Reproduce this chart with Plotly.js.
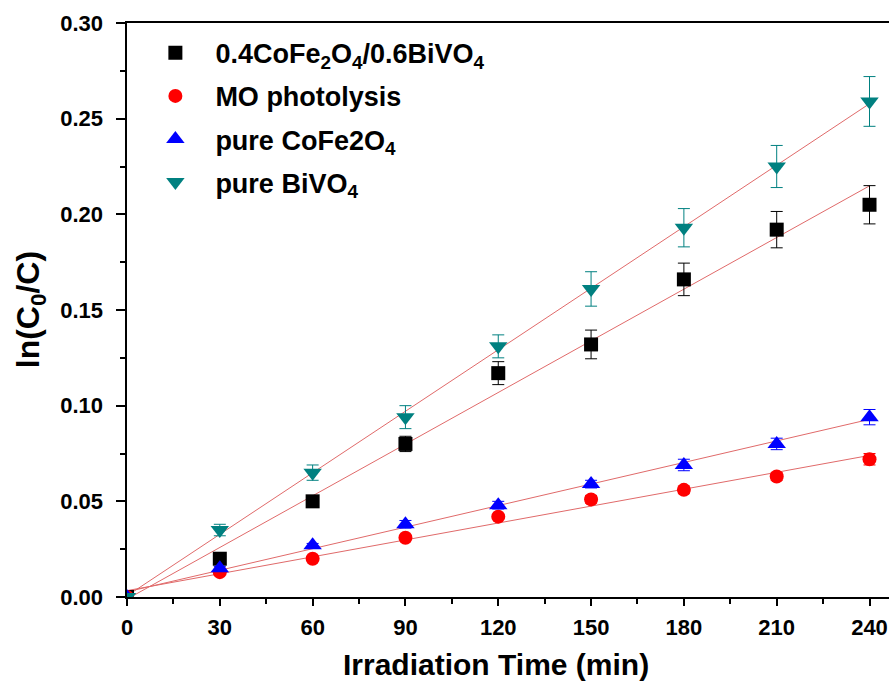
<!DOCTYPE html>
<html>
<head>
<meta charset="utf-8">
<script src="https://cdn.plot.ly/plotly-3.0.1.min.js"></script>
<style>html,body{margin:0;padding:0;background:#fff;}#chart{width:889px;height:684px;}</style>
</head>
<body>
<div id="chart"></div>
<script>
// Irradiation time (min)
const time = [0, 30, 60, 90, 120, 150, 180, 210, 240];

// ln(C0/C) values
const composite = [0, 0.020, 0.050, 0.080, 0.117, 0.132, 0.166, 0.192, 0.205];
const compositeErr = [0, 0.001, 0.002, 0.004, 0.006, 0.0075, 0.0085, 0.0095, 0.010];

const photolysis = [0, 0.013, 0.020, 0.031, 0.042, 0.051, 0.056, 0.063, 0.072];
const photolysisErr = [0, 0.001, 0.001, 0.001, 0.001, 0.002, 0.002, 0.002, 0.003];

const cofe = [0, 0.015, 0.027, 0.038, 0.048, 0.059, 0.069, 0.080, 0.094];
const cofeErr = [0, 0.001, 0.001, 0.002, 0.002, 0.002, 0.003, 0.003, 0.004];

const bivo = [0, 0.035, 0.065, 0.094, 0.131, 0.161, 0.193, 0.225, 0.259];
const bivoErr = [0, 0.003, 0.004, 0.006, 0.006, 0.009, 0.010, 0.011, 0.013];

const names = [
  '0.4CoFe<sub>2</sub>O<sub>4</sub>/0.6BiVO<sub>4</sub>',
  'MO photolysis',
  'pure CoFe2O<sub>4</sub>',
  'pure BiVO<sub>4</sub>'
];

const xTitle = 'Irradiation Time (min)';
const yTitle = 'ln(C<sub>0</sub>/C)';

const FONT = 'Liberation Sans, Arial, sans-serif';

function linfit(x, y) {
  const n = x.length;
  const mx = x.reduce((a, b) => a + b, 0) / n;
  const my = y.reduce((a, b) => a + b, 0) / n;
  let sxy = 0, sxx = 0;
  for (let i = 0; i < n; i++) { sxy += (x[i] - mx) * (y[i] - my); sxx += (x[i] - mx) ** 2; }
  const b = sxy / sxx, a = my - b * mx;
  const xs = [x[0], x[n - 1]];
  return { x: xs, y: xs.map(v => a + b * v) };
}

const series = [
  { y: composite, e: compositeErr, color: '#000000', symbol: 'square', size: 14 },
  { y: photolysis, e: photolysisErr, color: '#ff0000', symbol: 'circle', size: 14 },
  { y: cofe, e: cofeErr, color: '#0000ff', symbol: 'triangle-up', size: 16 },
  { y: bivo, e: bivoErr, color: '#008080', symbol: 'triangle-down', size: 16 }
];

const traces = [];
series.forEach(s => {
  const f = linfit(time, s.y);
  traces.push({
    x: f.x, y: f.y, mode: 'lines', type: 'scatter', showlegend: false, hoverinfo: 'skip',
    line: { color: '#e06a6a', width: 1 }
  });
});
series.forEach((s, i) => {
  traces.push({
    x: time, y: s.y, name: names[i], type: 'scatter', mode: 'markers',
    legendgroup: 'g' + i,
    marker: { symbol: s.symbol, size: s.size, color: s.color },
    error_y: { type: 'data', array: s.e, visible: true, color: s.color, thickness: 1, width: 6 }
  });
});

const layout = {
  width: 889, height: 684,
  margin: { l: 127, r: 0, t: 23, b: 87 },
  paper_bgcolor: '#ffffff', plot_bgcolor: '#ffffff',
  font: { family: FONT, color: '#000' },
  showlegend: true,
  legend: {
    x: 0.011, y: 0.99, xanchor: 'left', yanchor: 'top',
    bgcolor: 'rgba(0,0,0,0)', borderwidth: 0,
    font: { family: FONT, size: 27, weight: 'bold', color: '#000' },
    itemwidth: 70, tracegroupgap: 5
  },
  xaxis: {
    range: [0, 246.3], tickvals: [0, 30, 60, 90, 120, 150, 180, 210, 240],
    ticks: 'outside', ticklen: 7, tickwidth: 2, tickcolor: '#000', ticklabelstandoff: 3,
    minor: { dtick: 15, tick0: 0, ticks: 'outside', ticklen: 5, tickwidth: 2, tickcolor: '#000' },
    showline: true, linewidth: 2, linecolor: '#000', mirror: true,
    showgrid: false, zeroline: false,
    tickfont: { family: FONT, size: 22, weight: 'bold' }
  },
  yaxis: {
    range: [0, 0.30], tickvals: [0, 0.05, 0.10, 0.15, 0.20, 0.25, 0.30], tickformat: '.2f',
    ticks: 'outside', ticklen: 9, tickwidth: 2, tickcolor: '#000', ticklabelstandoff: 8,
    minor: { dtick: 0.025, tick0: 0, ticks: 'outside', ticklen: 5, tickwidth: 2, tickcolor: '#000' },
    showline: true, linewidth: 2.5, linecolor: '#000', mirror: false,
    showgrid: false, zeroline: false,
    tickfont: { family: FONT, size: 22, weight: 'bold' }
  },
  annotations: [
    { text: xTitle, xref: 'paper', yref: 'paper', x: 0.484, y: -0.118, xanchor: 'center', yanchor: 'middle',
      showarrow: false, font: { family: FONT, size: 30, weight: 'bold', color: '#000' } },
    { text: yTitle, xref: 'paper', yref: 'paper', x: -0.127, y: 0.50, xanchor: 'center', yanchor: 'middle',
      textangle: -90, showarrow: false, font: { family: FONT, size: 32, weight: 'bold', color: '#000' } }
  ]
};

Plotly.newPlot('chart', traces, layout, { displayModeBar: false, staticPlot: true });
</script>
</body>
</html>
